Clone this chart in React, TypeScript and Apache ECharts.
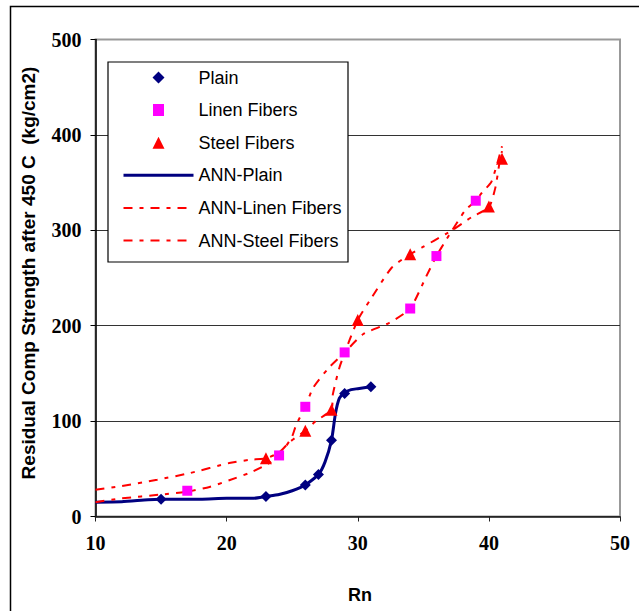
import React, { useEffect, useRef } from "react";
import * as echarts from "echarts";

// Measured data
const plainX = [15, 23, 26, 27, 28, 29, 31];
const plainY = [18, 21, 33, 44, 80, 129, 136];

const linenX = [17, 24, 26, 29, 34, 36, 39];
const linenY = [27, 64, 115, 172, 218, 273, 331];

const steelX = [23, 26, 28, 30, 34, 40, 41];
const steelY = [61, 90, 112, 206, 275, 325, 375];

const annPlainX = [10, 12, 14, 15, 18, 20, 22, 23, 24, 25, 26, 27, 27.5, 28, 28.3, 28.6, 29, 29.5, 30, 31];
const annPlainY = [15, 15.5, 17.5, 18, 18, 19, 19, 21, 23, 27, 33, 44, 57, 80, 108, 124, 130, 133, 134, 136];

const annLinenX = [10, 12, 15, 17, 18.7, 20.2, 21.8, 23, 24, 24.5, 25, 25.3, 26, 26.6, 27.8, 29, 30.4, 32.4, 34, 35.2, 36, 36.7, 37.2, 38.2, 39, 39.5, 40.2, 41];
const annLinenY = [15, 19, 23, 26, 31, 38, 46, 54, 63, 73, 84, 96, 115, 135, 156, 172, 191, 203, 218, 251, 273, 289, 300, 321, 331, 340, 351, 388];

const annSteelX = [10, 12, 14.7, 17.2, 20.2, 21.8, 23, 24, 24.8, 26, 26.8, 28, 28.1, 28.6, 29.35, 30, 30.9, 32.6, 34, 34.9, 36.7, 37.2, 38.7, 40, 40.5, 40.8, 41];
const annSteelY = [28, 32, 38.5, 45.5, 56, 59.5, 61, 67, 78, 90, 100, 112, 128, 156, 184, 206, 226, 261, 275, 282, 296, 300, 314, 324, 345, 370, 383];

const xTicks = { min: 10, max: 50, interval: 10 };
const yTicks = { min: 0, max: 500, interval: 100 };

const seriesNames = ["Plain", "Linen Fibers", "Steel Fibers", "ANN-Plain", "ANN-Linen Fibers", "ANN-Steel Fibers"];
const xTitle = "Rn";
const yTitle = "Residual Comp Strength after 450 C  (kg/cm2)";

const zip = (xs: number[], ys: number[]) => xs.map((x, i) => [x, ys[i]]);

// legend icons: symbol centred in a wide, invisible bounding box (70 x 12)
const diamondIcon = "path://M0,6L0.01,6M29,6L35,0L41,6L35,12ZM69.99,6L70,6";
const squareIcon = "path://M0,6L0.01,6M29.5,0.5L40.5,0.5L40.5,11.5L29.5,11.5ZM69.99,6L70,6";
const triangleIcon = "path://M0,6L0.01,6M35,0L41,12L29,12ZM69.99,6L70,6";

export default function App() {
  const ref = useRef<HTMLDivElement>(null);
  useEffect(() => {
    if (!ref.current) return;
    const chart = echarts.init(ref.current, undefined, { renderer: "svg" });
    const dash = [9, 7, 4, 7];
    const tickFont = {
      fontFamily: "Liberation Serif",
      fontWeight: "bold" as const,
      fontSize: 20,
      color: "#000",
    };
    chart.setOption({
      animation: false,
      backgroundColor: "#fff",
      grid: {
        left: 95.5,
        right: 19,
        top: 39.5,
        bottom: 94.5,
        show: true,
        borderColor: "#999",
        borderWidth: 2,
        containLabel: false,
      },
      xAxis: {
        type: "value",
        min: xTicks.min,
        max: xTicks.max,
        interval: xTicks.interval,
        axisLine: { show: true, onZero: false, lineStyle: { color: "#222", width: 1.5 } },
        axisTick: { show: true, inside: false, length: 5, lineStyle: { color: "#222", width: 1 } },
        axisLabel: { ...tickFont, margin: 16 },
        splitLine: { show: false },
      },
      yAxis: {
        type: "value",
        min: yTicks.min,
        max: yTicks.max,
        interval: yTicks.interval,
        axisLine: { show: true, onZero: false, lineStyle: { color: "#000", width: 1.5 } },
        axisTick: { show: true, inside: false, length: 5, lineStyle: { color: "#000", width: 1 } },
        axisLabel: { ...tickFont, margin: 14 },
        splitLine: {
          show: true,
          lineStyle: {
            color: ["#333", "#333", "#333", "#333", "#333", "rgba(0,0,0,0)"],
            width: 1,
          },
        },
      },
      legend: {
        orient: "vertical",
        left: 122,
        top: 68.5,
        padding: 0,
        itemWidth: 70,
        itemHeight: 12,
        itemGap: 14.6,
        symbolKeepAspect: false,
        z: 10,
        data: [
          { name: seriesNames[0], icon: diamondIcon },
          { name: seriesNames[1], icon: squareIcon },
          { name: seriesNames[2], icon: triangleIcon },
          { name: seriesNames[3], itemStyle: { opacity: 0 }, lineStyle: { width: 3 } },
          { name: seriesNames[4], itemStyle: { opacity: 0 }, lineStyle: { width: 2 } },
          { name: seriesNames[5], itemStyle: { opacity: 0 }, lineStyle: { width: 2 } },
        ],
        textStyle: { fontFamily: "Liberation Sans", fontSize: 18, color: "#000" },
      },
      graphic: [
        {
          type: "rect",
          z: 5,
          shape: { x: 10.5, y: 6.5, width: 700, height: 700 },
          style: { fill: "none", stroke: "#000", lineWidth: 1.5 },
          silent: true,
        },
        {
          type: "rect",
          z: 5,
          shape: { x: 108, y: 62, width: 240, height: 200 },
          style: { fill: "#fff", stroke: "#000", lineWidth: 1.2 },
          silent: true,
        },
        {
          type: "text",
          x: 28,
          y: 273,
          rotation: Math.PI / 2,
          style: {
            text: yTitle,
            fontFamily: "Liberation Sans",
            fontWeight: "bold",
            fontSize: 19,
            fill: "#000",
            textAlign: "center",
            textVerticalAlign: "middle",
          },
        },
        {
          type: "text",
          x: 360,
          y: 595,
          style: {
            text: xTitle,
            fontFamily: "Liberation Sans",
            fontWeight: "bold",
            fontSize: 18,
            fill: "#000",
            textAlign: "center",
            textVerticalAlign: "middle",
          },
        },
      ],
      series: [
        {
          name: seriesNames[0],
          type: "scatter",
          symbol: "diamond",
          symbolSize: 11,
          itemStyle: { color: "#000080", opacity: 1 },
          data: zip(plainX, plainY),
          z: 4,
        },
        {
          name: seriesNames[1],
          type: "scatter",
          symbol: "rect",
          symbolSize: 10,
          itemStyle: { color: "#FF00FF", opacity: 1 },
          data: zip(linenX, linenY),
          z: 4,
        },
        {
          name: seriesNames[2],
          type: "scatter",
          symbol: "triangle",
          symbolSize: 12,
          itemStyle: { color: "#FF0000", opacity: 1 },
          data: zip(steelX, steelY),
          z: 4,
        },
        {
          name: seriesNames[3],
          type: "line",
          showSymbol: false,
          symbol: "none",
          smooth: 0.2,
          lineStyle: { color: "#000080", width: 3 },
          itemStyle: { color: "#000080" },
          data: zip(annPlainX, annPlainY),
          z: 3,
        },
        {
          name: seriesNames[4],
          type: "line",
          showSymbol: false,
          symbol: "none",
          smooth: 0.2,
          lineStyle: { color: "#FF0000", width: 2, type: dash },
          itemStyle: { color: "#FF0000" },
          data: zip(annLinenX, annLinenY),
          z: 3,
        },
        {
          name: seriesNames[5],
          type: "line",
          showSymbol: false,
          symbol: "none",
          smooth: 0.2,
          lineStyle: { color: "#FF0000", width: 2, type: dash },
          itemStyle: { color: "#FF0000" },
          data: zip(annSteelX, annSteelY),
          z: 3,
        },
      ],
    });
    return () => chart.dispose();
  }, []);
  return (
    <div
      ref={ref}
      style={{ position: "fixed", left: 0, top: 0, width: 639, height: 611 }}
    />
  );
}
